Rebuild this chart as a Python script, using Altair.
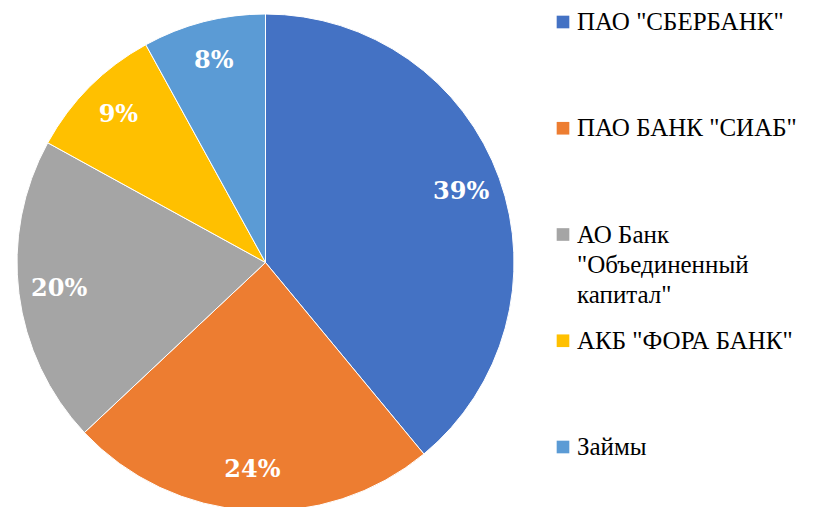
import altair as alt
import pandas as pd

categories = ['ПАО "СБЕРБАНК"', 'ПАО БАНК "СИАБ"', 'АО Банк "Объединенный капитал"', 'АКБ "ФОРА БАНК"', 'Займы']
legend_lines = [['ПАО "СБЕРБАНК"'], ['ПАО БАНК "СИАБ"'], ['АО Банк', '"Объединенный', 'капитал"'], ['АКБ "ФОРА БАНК"'], ['Займы']]
values = [39, 24, 20, 9, 8]
pct_labels = ['39%', '24%', '20%', '9%', '8%']
colors = ['#4472C4', '#ED7D31', '#A5A5A5', '#FFC000', '#5B9BD5']

df = pd.DataFrame({
    'cat': categories,
    'value': values,
    'order': list(range(len(categories))),
    'label': pct_labels,
})

CX, CY, R = 265.5, 262.5, 248.5
LINE_H = 30

color = alt.Color('cat:N', scale=alt.Scale(domain=categories, range=colors), legend=None)
theta = alt.Theta('value:Q', stack=True)
order = alt.Order('order:Q')

base = alt.Chart(df)

pie = base.mark_arc(radius=R, stroke='white', strokeWidth=1).encode(
    theta=theta, color=color, order=order,
    x=alt.value(CX), y=alt.value(CY),
)

labels = base.mark_text(radius=208, font='DejaVu Serif', fontWeight='bold', fontSize=24,
                        fill='white', align='center', baseline='middle').encode(
    theta=theta, order=order, text='label:N',
    x=alt.value(CX), y=alt.value(CY),
)

ly = alt.Y('cat:N', sort=categories, axis=None,
           scale=alt.Scale(type='point', range=[22, 447], padding=0))

leg_sym = base.mark_square(size=160, opacity=1, filled=True).encode(
    x=alt.value(563), y=ly, color=color,
)

line_layers = []
for k in range(max(len(ls) for ls in legend_lines)):
    d = pd.DataFrame({
        'cat': [c for c, ls in zip(categories, legend_lines) if len(ls) > k],
        'line': [ls[k] for ls in legend_lines if len(ls) > k],
    })
    line_layers.append(
        alt.Chart(d).mark_text(
            font='Liberation Serif', fontSize=25, align='left', baseline='middle', dy=k * LINE_H,
        ).encode(x=alt.value(577), y=ly, text='line:N')
    )

chart = alt.layer(pie, labels, leg_sym, *line_layers).properties(
    width=817, height=507, padding=0,
).configure_view(stroke=None)

chart.save("out.html", embed_options={"renderer": "svg", "actions": False})
